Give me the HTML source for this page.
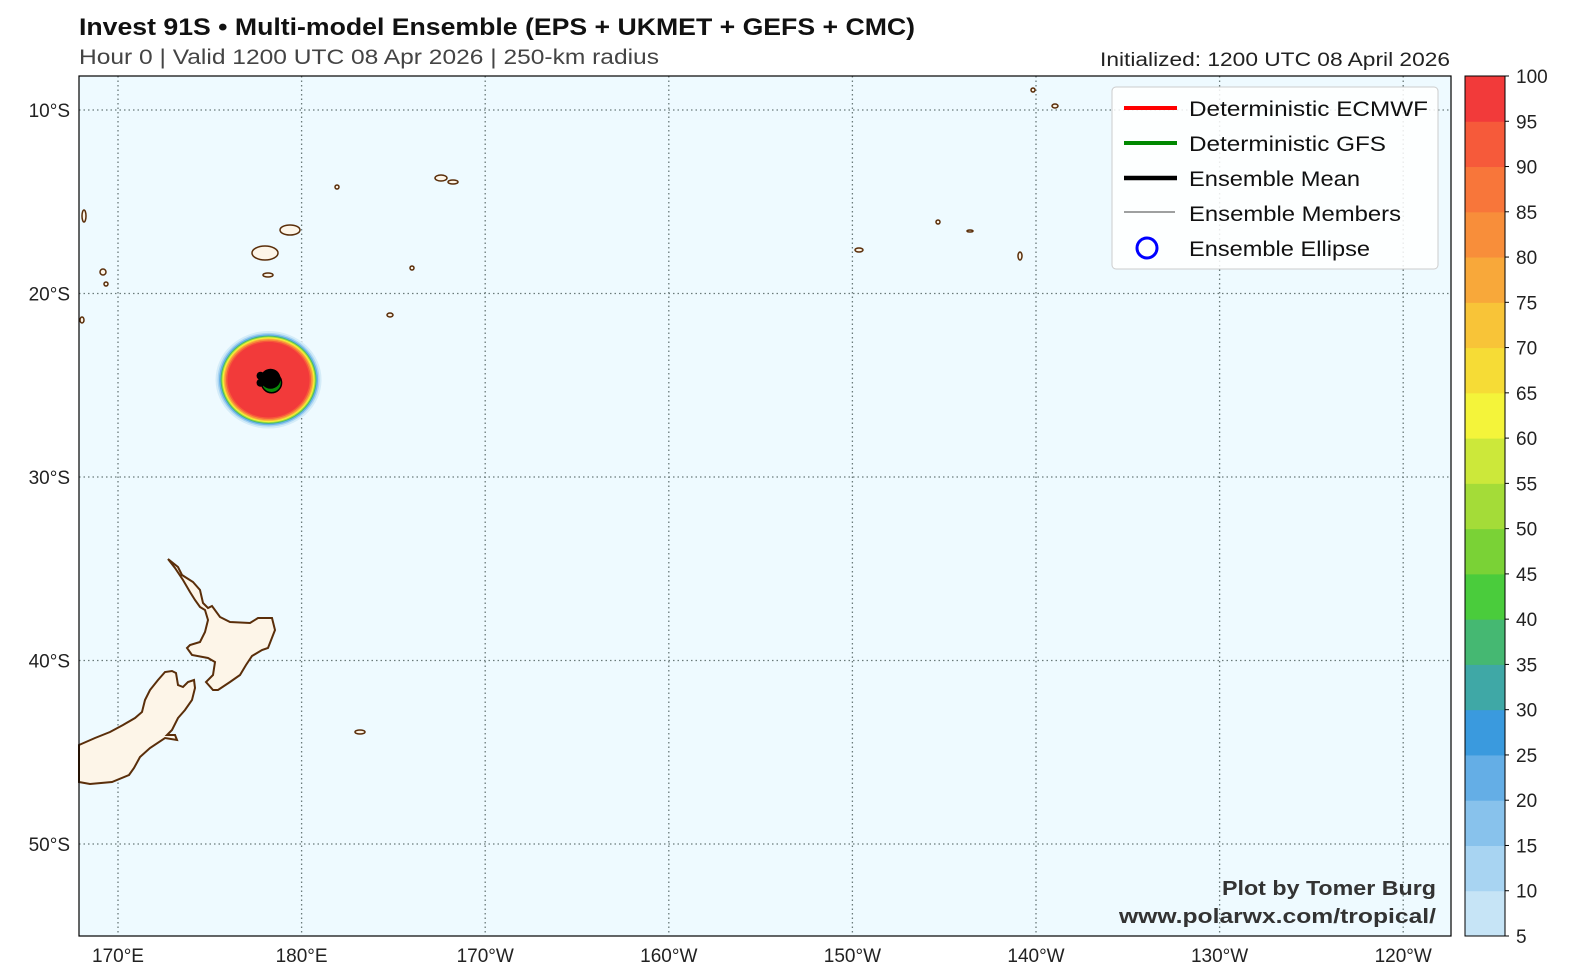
<!DOCTYPE html>
<html><head><meta charset="utf-8"><style>
body{margin:0;background:#fff;width:1575px;height:978px;overflow:hidden;font-family:"Liberation Sans",sans-serif}
svg{display:block}
</style></head><body>
<svg id="s" width="1575" height="978" xmlns="http://www.w3.org/2000/svg">
<text x="79" y="35" font-size="24" font-weight="bold" fill="#111" textLength="836" lengthAdjust="spacingAndGlyphs">Invest 91S • Multi-model Ensemble (EPS + UKMET + GEFS + CMC)</text>
<text x="79" y="64" font-size="21" fill="#444" textLength="580" lengthAdjust="spacingAndGlyphs">Hour 0 | Valid 1200 UTC 08 Apr 2026 | 250-km radius</text>
<text x="1450" y="66" font-size="19" fill="#222" text-anchor="end" textLength="350" lengthAdjust="spacingAndGlyphs">Initialized: 1200 UTC 08 April 2026</text>
<rect x="79" y="76" width="1372" height="860" fill="#eefaff"/>
<g id="grid"></g>
<g id="land"></g>
<g id="blob"></g>
<g id="axes"></g>
<rect x="79" y="76" width="1372" height="860" fill="none" stroke="#000" stroke-width="1.2"/>
<g>
<rect x="1112" y="87" width="326" height="182" rx="4" fill="#fff" fill-opacity="0.85" stroke="#ccc"/>
<line x1="1124" y1="108" x2="1177" y2="108" stroke="#f00" stroke-width="4"/>
<text x="1189" y="116" font-size="21" fill="#111" textLength="239" lengthAdjust="spacingAndGlyphs">Deterministic ECMWF</text>
<line x1="1124" y1="143" x2="1177" y2="143" stroke="#080" stroke-width="4"/>
<text x="1189" y="151" font-size="21" fill="#111" textLength="197" lengthAdjust="spacingAndGlyphs">Deterministic GFS</text>
<line x1="1124" y1="178" x2="1177" y2="178" stroke="#000" stroke-width="4.5"/>
<text x="1189" y="186" font-size="21" fill="#111" textLength="171" lengthAdjust="spacingAndGlyphs">Ensemble Mean</text>
<line x1="1124" y1="212" x2="1175" y2="212" stroke="#000" stroke-width="0.8"/>
<text x="1189" y="221" font-size="21" fill="#111" textLength="212" lengthAdjust="spacingAndGlyphs">Ensemble Members</text>
<circle cx="1147" cy="248" r="10" fill="none" stroke="#00f" stroke-width="3"/>
<text x="1189" y="256" font-size="21" fill="#111" textLength="181" lengthAdjust="spacingAndGlyphs">Ensemble Ellipse</text>
</g>
<text x="1436" y="895" font-size="20" font-weight="bold" fill="#333" text-anchor="end" textLength="214" lengthAdjust="spacingAndGlyphs">Plot by Tomer Burg</text>
<text x="1436" y="923" font-size="20" font-weight="bold" fill="#333" text-anchor="end" textLength="317" lengthAdjust="spacingAndGlyphs">www.polarwx.com/tropical/</text>
<g id="cbar"></g>
</svg>
<script>
const lonTicks=[170,180,190,200,210,220,230,240];
const lonLabels=["170°E","180°E","170°W","160°W","150°W","140°W","130°W","120°W"];
const latTicks=[-10,-20,-30,-40,-50];
const latLabels=["10°S","20°S","30°S","40°S","50°S"];
const cbarLevels=[5,10,15,20,25,30,35,40,45,50,55,60,65,70,75,80,85,90,95,100];
const cbarColors=["#c6e4f6","#a8d4f2","#88c2ec","#64aee6","#3a9ade","#3fa8a6","#45b872","#4acc3c","#7ad236","#a4dc38","#cce83a","#f4f43a","#f6dc36","#f8c438","#f8a83a","#f88e3a","#f8763a","#f65a3a","#f23a3a"];
const stormLon=[178.2];
const stormLat=[-24.7];
const NS="http://www.w3.org/2000/svg";
const X=lon=>118+(lon-170)*18.36;
const Y=lat=>110+(-10-lat)*18.35;
function mk(t,a,p){const e=document.createElementNS(NS,t);for(const k in a)e.setAttribute(k,a[k]);p.appendChild(e);return e;}
const grid=document.getElementById('grid'),axes=document.getElementById('axes');
lonTicks.forEach((l,i)=>{const x=X(l);
 const g=mk('line',{x1:x,x2:x,y1:76,y2:936,stroke:'#6a7a7a','stroke-width':1.3,'stroke-dasharray':'1.5,3'},grid);
 
 const t=mk('text',{x:x,y:962,'font-size':19,'text-anchor':'middle',fill:'#222'},axes);t.textContent=lonLabels[i];
 });
latTicks.forEach((l,i)=>{const y=Y(l);
 const g=mk('line',{x1:79,x2:1451,y1:y,y2:y,stroke:'#6a7a7a','stroke-width':1.3,'stroke-dasharray':'1.5,3'},grid);
 
 const t=mk('text',{x:70,y:y+7,'font-size':19,'text-anchor':'end',fill:'#222'},axes);t.textContent=latLabels[i];
 });
const land=document.getElementById('land');
const ni="168,559 178,567 182,575 193,582 200,590 203,603 208,608 212,606 220,617 230,622 250,623 258,618 272,618 275,630 268,648 262,650 252,656 246,665 240,675 230,682 218,690 213,690 206,682 213,675 215,662 208,658 192,655 187,648 190,645 200,642 205,632 208,620 205,610 200,607 195,600 190,592 183,580 175,568";
const si="79,745 95,738 110,732 123,725 135,718 142,712 145,700 150,690 158,680 165,672 172,671 176,673 178,685 183,687 188,682 194,680 195,688 192,700 185,710 178,718 172,730 167,735 175,735 177,740 165,738 150,748 140,757 134,768 129,775 112,782 90,784 79,782";
[ni,si].forEach(p=>{const e=mk('polygon',{points:p,fill:'#fdf5e8',stroke:'#5a2e0a','stroke-width':2},land);
 });
const isl=[[265,253,13,7],[290,230,10,5],[441,178,6,3],[453,182,5,2],[360,732,5,2],[1055,106,3,2],[859,250,4,2],[103,272,3,3],[84,216,2,6],[412,268,2,2],[268,275,5,2],[1020,256,2,4],[970,231,3,1],[938,222,2,2],[1033,90,2,2],[337,187,2,2],[390,315,3,2],[82,320,2,3],[106,284,2,2]];
isl.forEach(a=>{const e=mk('ellipse',{cx:a[0],cy:a[1],rx:a[2],ry:a[3],fill:'#fdf5e8',stroke:'#5a2e0a','stroke-width':1.5},land);
 });
const blob=document.getElementById('blob');
const cx=X(stormLon[0]),cy=Y(stormLat[0]);
const rings=[[53,'#d4ecf8'],[51,'#a8d4f2'],[49.5,'#6ab2e6'],[48,'#45b872'],[47,'#a4dc38'],[46,'#f4f43a'],[45,'#f8c438'],[44,'#f8903a'],[42.5,'#f65a3a'],[41,'#f23a3a']];
rings.forEach(r=>{const e=mk('ellipse',{cx:cx,cy:cy,rx:r[0],ry:r[0]*0.92,fill:r[1]},blob);
 });
let e=mk('circle',{cx:cx+3,cy:cy+3,r:10,fill:'#0a8a0a',stroke:'#000','stroke-width':1.5},blob);

e=mk('circle',{cx:cx+2,cy:cy-1,r:10,fill:'#000'},blob);

e=mk('circle',{cx:cx-8,cy:cy-4,r:4,fill:'#000'},blob);

e=mk('circle',{cx:cx-8,cy:cy+3,r:4,fill:'#000'},blob);

const cb=document.getElementById('cbar');
const cbT=76,cbB=936,cbX=1465,cbW=40;
const CY=v=>cbB-(v-5)/95*(cbB-cbT);
cbarColors.forEach((c,i)=>{const y1=CY(cbarLevels[i+1]),y0=CY(cbarLevels[i]);
 const r=mk('rect',{x:cbX,y:y1,width:cbW,height:y0-y1+0.5,fill:c},cb);
 });
mk('rect',{x:cbX,y:cbT,width:cbW,height:cbB-cbT,fill:'none',stroke:'#000','stroke-width':1},cb);
cbarLevels.forEach(v=>{const y=CY(v);
 mk('line',{x1:cbX+cbW,x2:cbX+cbW+4,y1:y,y2:y,stroke:'#000'},cb);
 const t=mk('text',{x:1516,y:y+7,'font-size':19,fill:'#222'},cb);t.textContent=v;
 });
</script>
</body></html>
